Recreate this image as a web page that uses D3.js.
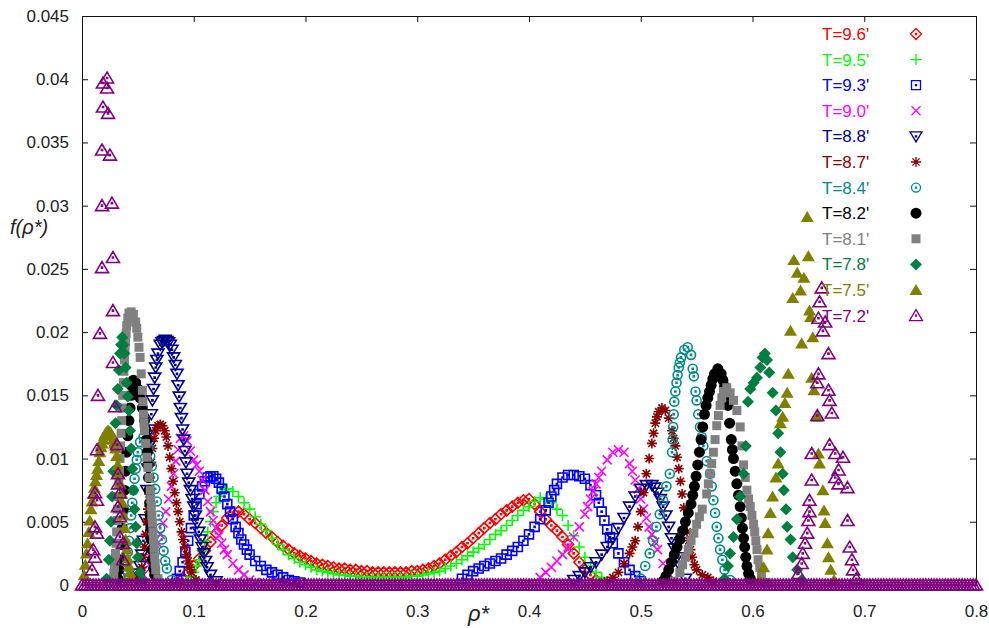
<!DOCTYPE html>
<html>
<head>
<meta charset="utf-8">
<script src="https://cdn.jsdelivr.net/npm/d3@7"></script>
<style>
  body { margin: 0; background: #fff; }
  text { font-family: "Liberation Sans", Arial, sans-serif; }
</style>
</head>
<body>
<script>
var svgWidth = 989;
var svgHeight = 628;

// legend labels, colours and point types (same order as gnuplot draws them)
var temps = ["T=9.6'", "T=9.5'", "T=9.3'", "T=9.0'", "T=8.8'", "T=8.7'",
             "T=8.4'", "T=8.2'", "T=8.1'", "T=7.8'", "T=7.5'", "T=7.2'"];
var colors = ["#ff0000", "#00ff00", "#0000ff", "#ff00ff", "#00008b", "#8b0000",
              "#008b8b", "#000000", "#808080", "#007f40", "#808000", "#800080"];
var shapes = ["diamond", "plus", "square", "times", "triDown", "asterisk",
              "circle", "dot", "box", "diamondF", "triF", "tri"];

var xTicks = [0, 0.1, 0.2, 0.3, 0.4, 0.5, 0.6, 0.7, 0.8];
var yTicks = [0, 0.005, 0.01, 0.015, 0.02, 0.025, 0.03, 0.035, 0.04, 0.045];

// [rho*, f(rho*)]
var t96 = [[0.085,0.0002],[0.09,0.0005],[0.095,0.001],[0.1,0.0015],[0.105,0.0021],[0.11,0.0027],[0.115,0.0034],[0.12,0.0041],[0.125,0.0047],[0.13,0.0053],[0.135,0.0057],[0.14,0.0058],[0.145,0.0056],[0.15,0.0052],[0.155,0.0049],[0.16,0.0045],[0.165,0.0041],[0.17,0.0038],[0.175,0.0034],[0.18,0.0031],[0.185,0.0028],[0.19,0.0025],[0.195,0.0023],[0.2,0.0021],[0.205,0.0019],[0.21,0.0017],[0.215,0.0016],[0.22,0.0015],[0.225,0.0014],[0.23,0.0013],[0.235,0.0013],[0.24,0.0012],[0.245,0.0012],[0.25,0.0011],[0.255,0.0011],[0.26,0.001],[0.265,0.001],[0.27,0.001],[0.275,0.001],[0.28,0.001],[0.285,0.001],[0.29,0.001],[0.295,0.0011],[0.3,0.0011],[0.305,0.0012],[0.31,0.0013],[0.315,0.0015],[0.32,0.0017],[0.325,0.002],[0.33,0.0023],[0.335,0.0026],[0.34,0.003],[0.345,0.0033],[0.35,0.0037],[0.355,0.0041],[0.36,0.0045],[0.365,0.0049],[0.37,0.0052],[0.375,0.0056],[0.38,0.0059],[0.385,0.0062],[0.39,0.0065],[0.395,0.0067],[0.4,0.0068],[0.405,0.0064],[0.41,0.0058],[0.415,0.0052],[0.42,0.0047],[0.425,0.0043],[0.43,0.0038],[0.435,0.0032],[0.44,0.0025],[0.445,0.0018],[0.45,0.0012],[0.455,0.0008],[0.46,0.0004]];

var t95 = [[0.095,0.0003],[0.0975,0.0006],[0.1,0.001],[0.1025,0.0015],[0.105,0.002],[0.1075,0.0027],[0.11,0.0035],[0.1125,0.0042],[0.115,0.005],[0.1175,0.0058],[0.12,0.0065],[0.1225,0.007],[0.125,0.0074],[0.1275,0.0076],[0.13,0.0076],[0.135,0.0074],[0.14,0.007],[0.145,0.0065],[0.15,0.006],[0.155,0.0054],[0.16,0.0048],[0.165,0.0043],[0.17,0.0037],[0.175,0.0032],[0.18,0.0028],[0.185,0.0024],[0.19,0.0021],[0.195,0.0018],[0.2,0.0016],[0.205,0.0014],[0.21,0.0012],[0.215,0.0011],[0.22,0.001],[0.225,0.0009],[0.23,0.0008],[0.235,0.0008],[0.24,0.0007],[0.245,0.0007],[0.25,0.0006],[0.255,0.0006],[0.26,0.0006],[0.265,0.0006],[0.27,0.0006],[0.275,0.0006],[0.28,0.0006],[0.285,0.0006],[0.29,0.0006],[0.295,0.0007],[0.3,0.0007],[0.305,0.0008],[0.31,0.0009],[0.315,0.001],[0.32,0.0011],[0.325,0.0013],[0.33,0.0015],[0.335,0.0017],[0.34,0.002],[0.345,0.0023],[0.35,0.0026],[0.355,0.0029],[0.36,0.0032],[0.365,0.0036],[0.37,0.004],[0.375,0.0043],[0.38,0.0047],[0.385,0.0051],[0.39,0.0055],[0.395,0.0059],[0.4,0.0062],[0.405,0.0066],[0.41,0.0069],[0.415,0.0068],[0.42,0.0065],[0.425,0.006],[0.43,0.0055],[0.435,0.0047],[0.44,0.0039],[0.445,0.003],[0.45,0.0022],[0.455,0.0015],[0.46,0.001],[0.465,0.0006],[0.47,0.0002]];

var t93 = [[0.085,0.0005],[0.0875,0.0011],[0.09,0.0018],[0.0925,0.0026],[0.095,0.0035],[0.0975,0.0045],[0.1,0.0055],[0.1025,0.0064],[0.105,0.0072],[0.1075,0.0078],[0.11,0.0082],[0.1125,0.0085],[0.115,0.0086],[0.1175,0.0086],[0.12,0.0084],[0.1225,0.0081],[0.125,0.0076],[0.1275,0.007],[0.13,0.0064],[0.1325,0.0058],[0.135,0.0052],[0.1375,0.0046],[0.14,0.0041],[0.1425,0.0036],[0.145,0.0032],[0.1475,0.0028],[0.15,0.0024],[0.155,0.0019],[0.16,0.0015],[0.165,0.0012],[0.17,0.001],[0.175,0.0008],[0.18,0.0006],[0.185,0.0004],[0.19,0.0003],[0.195,0.0002],
  [0.34,0.0005],[0.345,0.0008],[0.35,0.0011],[0.355,0.0013],[0.36,0.0015],[0.365,0.0017],[0.37,0.0019],[0.375,0.0021],[0.38,0.0024],[0.385,0.0027],[0.39,0.003],[0.395,0.0035],[0.4,0.004],[0.405,0.0046],[0.41,0.0052],[0.415,0.0059],[0.4175,0.0065],[0.42,0.007],[0.4225,0.0075],[0.425,0.008],[0.43,0.0085],[0.435,0.0087],[0.44,0.0087],[0.445,0.0086],[0.45,0.0084],[0.455,0.0079],[0.46,0.0071],[0.4625,0.0065],[0.465,0.0058],[0.4675,0.0051],[0.47,0.0044],[0.4725,0.0038],[0.475,0.0033],[0.48,0.0025],[0.485,0.0018],[0.49,0.0012],[0.495,0.0007],[0.5,0.0003]];

var t90 = [[0.05,0.0002],[0.055,0.0008],[0.06,0.0016],[0.0625,0.0021],[0.065,0.0027],[0.0675,0.0033],[0.07,0.004],[0.0725,0.0049],[0.075,0.0058],[0.0775,0.0068],[0.08,0.0078],[0.082,0.0088],[0.084,0.0098],[0.086,0.0107],[0.088,0.0116],[0.091,0.0118],[0.094,0.0114],[0.097,0.0106],[0.1,0.0099],[0.1025,0.0095],[0.105,0.009],[0.1075,0.0083],[0.11,0.0075],[0.1125,0.0066],[0.115,0.0058],[0.1175,0.0051],[0.12,0.0045],[0.1225,0.0039],[0.125,0.0033],[0.1275,0.0028],[0.13,0.0024],[0.135,0.0017],[0.14,0.0012],[0.145,0.0008],[0.15,0.0004],[0.155,0.0002],
  [0.41,0.0006],[0.415,0.001],[0.42,0.0014],[0.425,0.0019],[0.43,0.0024],[0.435,0.003],[0.44,0.0038],[0.445,0.0046],[0.45,0.0056],[0.4525,0.0062],[0.455,0.0068],[0.4575,0.0074],[0.46,0.008],[0.4625,0.0085],[0.465,0.009],[0.47,0.0099],[0.475,0.0105],[0.48,0.0107],[0.485,0.0105],[0.49,0.0096],[0.4925,0.009],[0.495,0.0083],[0.4975,0.0076],[0.5,0.0068],[0.5025,0.006],[0.505,0.0053],[0.5075,0.0046],[0.51,0.004],[0.5125,0.0034],[0.515,0.0028],[0.52,0.0017],[0.525,0.0009],[0.53,0.0004]];

var t88 = [[0.048,0.0005],[0.05,0.0009],[0.052,0.0015],[0.0535,0.0024],[0.055,0.0035],[0.0565,0.0052],[0.058,0.0075],[0.059,0.0092],[0.06,0.011],[0.061,0.0123],[0.062,0.0135],[0.063,0.0146],[0.064,0.0155],[0.065,0.0164],[0.066,0.0172],[0.067,0.0178],[0.068,0.0183],[0.07,0.019],[0.0715,0.0192],[0.073,0.0193],[0.0745,0.0194],[0.076,0.0193],[0.0775,0.0192],[0.079,0.019],[0.0805,0.0186],[0.082,0.018],[0.0835,0.0174],[0.085,0.0167],[0.086,0.0158],[0.087,0.0149],[0.088,0.014],[0.089,0.0132],[0.09,0.0123],[0.091,0.0115],[0.092,0.0106],[0.093,0.0097],[0.094,0.0088],[0.0955,0.0081],[0.097,0.0075],[0.0985,0.0068],[0.1,0.0062],[0.1015,0.0055],[0.103,0.0049],[0.1045,0.0042],[0.106,0.0036],[0.1075,0.003],[0.109,0.0025],[0.1105,0.0019],[0.112,0.0014],[0.115,0.0008],[0.12,0.0003],
  [0.44,0.0004],[0.445,0.0007],[0.45,0.001],[0.455,0.0014],[0.46,0.0018],[0.465,0.0024],[0.47,0.003],[0.475,0.0037],[0.48,0.0045],[0.485,0.0053],[0.49,0.0062],[0.495,0.007],[0.5,0.0076],[0.505,0.0079],[0.51,0.0079],[0.5125,0.0077],[0.515,0.0073],[0.5175,0.0068],[0.52,0.0062],[0.5225,0.0055],[0.525,0.0046],[0.5275,0.0037],[0.53,0.0029],[0.5325,0.0022],[0.535,0.0015],[0.54,0.0005]];

var t87 = [[0.05,0.0004],[0.052,0.0008],[0.0535,0.0014],[0.055,0.0022],[0.056,0.003],[0.057,0.004],[0.058,0.005],[0.059,0.006],[0.06,0.0072],[0.061,0.0085],[0.062,0.0097],[0.063,0.0108],[0.0645,0.0116],[0.066,0.0122],[0.068,0.0126],[0.07,0.0127],[0.072,0.0126],[0.074,0.0122],[0.0755,0.0117],[0.077,0.011],[0.0785,0.0101],[0.08,0.0092],[0.0815,0.0082],[0.083,0.0073],[0.0845,0.0065],[0.086,0.0058],[0.0875,0.005],[0.089,0.0042],[0.0905,0.0036],[0.092,0.003],[0.0935,0.0024],[0.095,0.0019],[0.0965,0.0014],[0.098,0.001],[0.102,0.0004],
  [0.47,0.0003],[0.475,0.0006],[0.48,0.001],[0.485,0.0017],[0.49,0.0025],[0.4925,0.003],[0.495,0.0035],[0.4975,0.0046],[0.5,0.0058],[0.5025,0.0073],[0.505,0.0088],[0.5075,0.01],[0.51,0.0112],[0.5115,0.012],[0.513,0.0128],[0.5145,0.0133],[0.516,0.0137],[0.519,0.014],[0.522,0.0138],[0.525,0.0132],[0.528,0.0122],[0.5295,0.0116],[0.531,0.011],[0.5325,0.0101],[0.534,0.0092],[0.5355,0.0082],[0.537,0.0072],[0.5385,0.0061],[0.54,0.005],[0.5415,0.0042],[0.543,0.0035],[0.5445,0.0028],[0.546,0.0022],[0.548,0.0016],[0.55,0.0012],[0.555,0.0008],[0.56,0.0006],[0.565,0.0003]];

var t84 = [[0.036,0.0003],[0.038,0.0008],[0.039,0.0012],[0.04,0.0018],[0.041,0.0026],[0.042,0.0035],[0.043,0.0045],[0.044,0.0055],[0.045,0.0065],[0.046,0.0075],[0.047,0.0084],[0.048,0.0092],[0.049,0.0099],[0.05,0.0105],[0.052,0.0113],[0.055,0.0117],[0.058,0.0113],[0.0595,0.0108],[0.061,0.0102],[0.0625,0.0094],[0.064,0.0085],[0.0655,0.0076],[0.067,0.0066],[0.0685,0.0055],[0.07,0.0045],[0.0715,0.0036],[0.073,0.0027],[0.0745,0.0019],[0.076,0.0013],[0.08,0.0004],
  [0.5,0.0005],[0.504,0.0015],[0.508,0.0025],[0.511,0.0035],[0.514,0.0046],[0.517,0.0056],[0.52,0.0067],[0.523,0.0078],[0.526,0.0088],[0.528,0.0105],[0.5285,0.0115],[0.529,0.0125],[0.5295,0.0135],[0.53,0.0145],[0.531,0.0153],[0.532,0.016],[0.533,0.0166],[0.534,0.0172],[0.535,0.0176],[0.536,0.018],[0.539,0.0186],[0.542,0.0188],[0.545,0.0182],[0.5465,0.0171],[0.5475,0.0165],[0.549,0.0153],[0.55,0.0146],[0.5515,0.0135],[0.553,0.0125],[0.5545,0.0117],[0.556,0.011],[0.559,0.0098],[0.562,0.0088],[0.5635,0.0078],[0.565,0.0067],[0.5665,0.0057],[0.568,0.0046],[0.5695,0.0037],[0.571,0.0028],[0.573,0.002],[0.575,0.0012],[0.58,0.0004]];

var t82 = [[0.032,0.0005],[0.033,0.0012],[0.034,0.002],[0.035,0.0032],[0.036,0.0045],[0.037,0.006],[0.038,0.0075],[0.039,0.009],[0.04,0.0105],[0.041,0.0118],[0.042,0.013],[0.043,0.014],[0.044,0.015],[0.045,0.0157],[0.046,0.0162],[0.048,0.016],[0.05,0.0155],[0.052,0.0148],[0.054,0.014],[0.056,0.013],[0.057,0.0123],[0.058,0.0115],[0.0585,0.0105],[0.059,0.0095],[0.0595,0.0085],[0.06,0.0075],[0.0605,0.0065],[0.061,0.0055],[0.0615,0.0045],[0.062,0.0036],[0.0625,0.0028],[0.063,0.002],[0.064,0.0013],[0.065,0.0008],
  [0.52,0.0003],[0.5225,0.0007],[0.525,0.0012],[0.5275,0.0018],[0.53,0.0024],[0.5325,0.003],[0.535,0.0036],[0.5375,0.0043],[0.54,0.005],[0.5425,0.0057],[0.545,0.0064],[0.5465,0.0071],[0.548,0.0078],[0.5495,0.0086],[0.551,0.0095],[0.5525,0.0105],[0.554,0.0115],[0.5555,0.0125],[0.557,0.0135],[0.5585,0.0142],[0.56,0.0148],[0.5615,0.0153],[0.563,0.0158],[0.5645,0.0163],[0.566,0.0167],[0.569,0.0171],[0.572,0.0167],[0.5735,0.0162],[0.575,0.0157],[0.5765,0.015],[0.578,0.0142],[0.5795,0.0128],[0.581,0.0115],[0.582,0.0107],[0.583,0.01],[0.5845,0.009],[0.586,0.008],[0.5875,0.0071],[0.589,0.0062],[0.59,0.0053],[0.591,0.0045],[0.592,0.0037],[0.593,0.003],[0.594,0.0022],[0.595,0.0015],[0.5965,0.0009],[0.598,0.0005]];

var t81 = [[0.028,0.0005],[0.0285,0.0009],[0.029,0.0014],[0.0295,0.0019],[0.03,0.0025],[0.0305,0.0033],[0.031,0.0042],[0.0315,0.0051],[0.032,0.006],[0.0325,0.007],[0.033,0.008],[0.0335,0.009],[0.034,0.01],[0.0345,0.011],[0.035,0.012],[0.0355,0.013],[0.036,0.014],[0.0365,0.015],[0.037,0.016],[0.0375,0.0169],[0.038,0.0178],[0.0385,0.0185],[0.039,0.0192],[0.0395,0.0199],[0.04,0.0205],[0.041,0.0211],[0.042,0.0215],[0.044,0.0216],[0.046,0.0214],[0.048,0.0208],[0.049,0.0203],[0.05,0.0196],[0.051,0.0188],[0.052,0.018],[0.053,0.0167],[0.054,0.0154],[0.0545,0.0145],[0.055,0.0135],[0.0555,0.0128],[0.056,0.0122],[0.057,0.0112],[0.058,0.0101],[0.059,0.0093],[0.06,0.0085],[0.061,0.0075],[0.0615,0.0068],[0.062,0.0062],[0.0625,0.0055],[0.063,0.0049],[0.0635,0.0042],[0.064,0.0036],[0.0645,0.0029],[0.065,0.0022],[0.0655,0.0017],[0.066,0.0012],[0.068,0.0005],
  [0.53,0.0003],[0.535,0.001],[0.5375,0.0016],[0.54,0.0022],[0.5425,0.0028],[0.545,0.0035],[0.5475,0.0041],[0.55,0.0048],[0.5525,0.0054],[0.555,0.006],[0.559,0.0072],[0.5605,0.008],[0.562,0.0088],[0.5635,0.0096],[0.565,0.0105],[0.5665,0.0115],[0.568,0.0126],[0.5695,0.0134],[0.571,0.0142],[0.5725,0.0148],[0.574,0.0153],[0.577,0.0156],[0.58,0.0152],[0.583,0.0146],[0.586,0.0138],[0.589,0.0125],[0.5905,0.011],[0.592,0.0095],[0.5935,0.0085],[0.595,0.0075],[0.5965,0.0068],[0.598,0.0062],[0.5995,0.0055],[0.601,0.0048],[0.602,0.0042],[0.603,0.0035],[0.604,0.0028],[0.605,0.002],[0.6065,0.0014],[0.608,0.0008],[0.612,0.0002]];

var t78 = [[0.022,0.0005],[0.024,0.002],[0.025,0.0035],[0.026,0.005],[0.027,0.007],[0.028,0.009],[0.029,0.011],[0.03,0.0128],[0.031,0.0142],[0.032,0.0155],[0.033,0.017],[0.034,0.0183],[0.035,0.019],[0.036,0.0196],[0.037,0.019],[0.038,0.0183],[0.039,0.0172],[0.04,0.016],[0.041,0.0149],[0.042,0.0138],[0.043,0.0122],[0.044,0.0108],[0.045,0.0092],[0.046,0.0075],[0.047,0.006],[0.048,0.0046],[0.049,0.0033],[0.05,0.0022],[0.052,0.001],[0.054,0.0004],
  [0.575,0.0005],[0.578,0.0015],[0.58,0.0025],[0.583,0.0038],[0.586,0.0052],[0.589,0.007],[0.592,0.0088],[0.594,0.011],[0.596,0.0145],[0.598,0.0155],[0.601,0.016],[0.604,0.0164],[0.607,0.0172],[0.609,0.018],[0.611,0.0183],[0.613,0.0178],[0.615,0.0168],[0.618,0.0152],[0.621,0.0138],[0.623,0.012],[0.625,0.0105],[0.627,0.0088],[0.628,0.0075],[0.63,0.006],[0.631,0.0046],[0.634,0.0036],[0.636,0.0022],[0.64,0.0012],[0.644,0.0004]];

var t75 = [[0.002,0.0008],[0.003,0.0016],[0.004,0.0025],[0.005,0.0033],[0.006,0.0042],[0.007,0.0051],[0.008,0.006],[0.009,0.0066],[0.01,0.0072],[0.011,0.0077],[0.012,0.0082],[0.013,0.0087],[0.014,0.0092],[0.015,0.0098],[0.016,0.0105],[0.017,0.0109],[0.018,0.0112],[0.019,0.0115],[0.02,0.0118],[0.021,0.012],[0.022,0.0121],[0.023,0.0122],[0.024,0.0122],[0.025,0.0121],[0.026,0.012],[0.027,0.0118],[0.028,0.0115],[0.029,0.0112],[0.03,0.0108],[0.031,0.0102],[0.032,0.0095],[0.033,0.0088],[0.034,0.008],[0.035,0.0072],[0.036,0.0065],[0.037,0.0055],[0.038,0.0045],[0.039,0.0036],[0.04,0.0028],[0.041,0.0021],[0.042,0.0015],[0.043,0.001],[0.044,0.0006],
  [0.606,0.0004],[0.61,0.0014],[0.613,0.0028],[0.614,0.0041],[0.616,0.0057],[0.618,0.007],[0.621,0.0085],[0.623,0.0096],[0.625,0.0128],[0.627,0.0133],[0.629,0.0144],[0.631,0.0152],[0.632,0.0167],[0.634,0.0201],[0.636,0.0227],[0.637,0.0257],[0.64,0.0247],[0.643,0.0233],[0.644,0.0191],[0.646,0.0243],[0.649,0.0291],[0.65,0.026],[0.651,0.0217],[0.652,0.0212],[0.653,0.0164],[0.654,0.0196],[0.655,0.0154],[0.658,0.0133],[0.659,0.0104],[0.66,0.0096],[0.663,0.0075],[0.664,0.0059],[0.665,0.0049],[0.667,0.0033],[0.668,0.0022],[0.67,0.0012],[0.673,0.0004]];

var t72 = [[0.009,0.0012],[0.01,0.0028],[0.0116,0.0046],[0.0116,0.0022],[0.0116,0.0073],[0.0134,0.0041],[0.0134,0.0067],[0.0134,0.0107],[0.0143,0.015],[0.0161,0.0199],[0.0179,0.0251],[0.0179,0.03],[0.0179,0.0344],[0.0188,0.0378],[0.0188,0.0397],[0.0224,0.0401],[0.0224,0.0393],[0.0233,0.0373],[0.025,0.034],[0.0268,0.0302],[0.0277,0.0259],[0.0277,0.0217],[0.0277,0.0176],[0.0295,0.0141],[0.0313,0.0111],[0.0322,0.0088],[0.0322,0.008],[0.0322,0.0062],[0.034,0.0073],[0.034,0.0054],[0.034,0.0038],[0.0367,0.0033],[0.0367,0.002],
  [0.641,0.0009],[0.644,0.0017],[0.645,0.0025],[0.647,0.0033],[0.649,0.0041],[0.65,0.0051],[0.651,0.0058],[0.651,0.0067],[0.653,0.0083],[0.653,0.0104],[0.658,0.0134],[0.658,0.016],[0.659,0.0167],[0.659,0.0211],[0.66,0.0224],[0.662,0.0235],[0.663,0.0201],[0.665,0.0208],[0.668,0.0183],[0.668,0.0154],[0.669,0.0146],[0.671,0.0136],[0.669,0.0111],[0.674,0.0104],[0.677,0.0091],[0.674,0.0085],[0.677,0.008],[0.681,0.0101],[0.685,0.0077],[0.685,0.0051],[0.687,0.003],[0.689,0.002],[0.69,0.0012],[0.693,0.0005]];

// rho* values where T=7.2 sits on f = 0 (the purple band along the axis)
var zeroRho = [
  0,0.0025,0.005,0.0075,0.01,0.0125,0.015,0.0175,
  0.02,0.0225,0.025,0.0275,0.03,0.0325,0.035,0.0375,
  0.04,0.0425,0.045,0.0475,0.05,0.0525,0.055,0.0575,
  0.06,0.0625,0.065,0.0675,0.07,0.0725,0.075,0.0775,
  0.08,0.0825,0.085,0.0875,0.09,0.0925,0.095,0.0975,
  0.1,0.1025,0.105,0.1075,0.11,0.1125,0.115,0.1175,
  0.12,0.1225,0.125,0.1275,0.13,0.1325,0.135,0.1375,
  0.14,0.1425,0.145,0.1475,0.15,0.1525,0.155,0.1575,
  0.16,0.1625,0.165,0.1675,0.17,0.1725,0.175,0.1775,
  0.18,0.1825,0.185,0.1875,0.19,0.1925,0.195,0.1975,
  0.2,0.2025,0.205,0.2075,0.21,0.2125,0.215,0.2175,
  0.22,0.2225,0.225,0.2275,0.23,0.2325,0.235,0.2375,
  0.24,0.2425,0.245,0.2475,0.25,0.2525,0.255,0.2575,
  0.26,0.2625,0.265,0.2675,0.27,0.2725,0.275,0.2775,
  0.28,0.2825,0.285,0.2875,0.29,0.2925,0.295,0.2975,
  0.3,0.3025,0.305,0.3075,0.31,0.3125,0.315,0.3175,
  0.32,0.3225,0.325,0.3275,0.33,0.3325,0.335,0.3375,
  0.34,0.3425,0.345,0.3475,0.35,0.3525,0.355,0.3575,
  0.36,0.3625,0.365,0.3675,0.37,0.3725,0.375,0.3775,
  0.38,0.3825,0.385,0.3875,0.39,0.3925,0.395,0.3975,
  0.4,0.4025,0.405,0.4075,0.41,0.4125,0.415,0.4175,
  0.42,0.4225,0.425,0.4275,0.43,0.4325,0.435,0.4375,
  0.44,0.4425,0.445,0.4475,0.45,0.4525,0.455,0.4575,
  0.46,0.4625,0.465,0.4675,0.47,0.4725,0.475,0.4775,
  0.48,0.4825,0.485,0.4875,0.49,0.4925,0.495,0.4975,
  0.5,0.5025,0.505,0.5075,0.51,0.5125,0.515,0.5175,
  0.52,0.5225,0.525,0.5275,0.53,0.5325,0.535,0.5375,
  0.54,0.5425,0.545,0.5475,0.55,0.5525,0.555,0.5575,
  0.56,0.5625,0.565,0.5675,0.57,0.5725,0.575,0.5775,
  0.58,0.5825,0.585,0.5875,0.59,0.5925,0.595,0.5975,
  0.6,0.6025,0.605,0.6075,0.61,0.6125,0.615,0.6175,
  0.62,0.6225,0.625,0.6275,0.63,0.6325,0.635,0.6375,
  0.64,0.6425,0.645,0.6475,0.65,0.6525,0.655,0.6575,
  0.66,0.6625,0.665,0.6675,0.67,0.6725,0.675,0.6775,
  0.68,0.6825,0.685,0.6875,0.69,0.6925,0.695,0.6975,
  0.7,0.7025,0.705,0.7075,0.71,0.7125,0.715,0.7175,
  0.72,0.7225,0.725,0.7275,0.73,0.7325,0.735,0.7375,
  0.74,0.7425,0.745,0.7475,0.75,0.7525,0.755,0.7575,
  0.76,0.7625,0.765,0.7675,0.77,0.7725,0.775,0.7775,
  0.78,0.7825,0.785,0.7875,0.79,0.7925,0.795,0.7975,
  0.8];

var seriesData = [t96, t95, t93, t90, t88, t87, t84, t82, t81, t78, t75, t72];

// point types: path + whether it is filled
var dotMark = "M-0.5,-0.5h1v1h-1Z";
var markers = {
  diamond:  { d: "M0,-5.5L5.5,0L0,5.5L-5.5,0Z" + dotMark, fill: false },
  plus:     { d: "M-5.5,0H5.5M0,-5.5V5.5", fill: false },
  square:   { d: "M-4.5,-4.5H4.5V4.5H-4.5Z" + dotMark, fill: false },
  times:    { d: "M-4.5,-4.5L4.5,4.5M-4.5,4.5L4.5,-4.5", fill: false },
  triDown:  { d: "M-6,-4.5H6L0,5.5Z" + dotMark, fill: false },
  asterisk: { d: "M-5,0H5M0,-5V5M-3.6,-3.6L3.6,3.6M-3.6,3.6L3.6,-3.6", fill: false },
  circle:   { d: d3.symbol(d3.symbolCircle, 64)() + dotMark, fill: false },
  dot:      { d: d3.symbol(d3.symbolCircle, 95)(), fill: true },
  box:      { d: "M-4.5,-4.5H4.5V4.5H-4.5Z", fill: true },
  diamondF: { d: "M0,-6L6,0L0,6L-6,0Z", fill: true },
  triF:     { d: "M0,-6L6.5,5H-6.5Z", fill: true },
  tri:      { d: "M0,-6L6.5,5H-6.5Z" + dotMark, fill: false }
};

var svg = d3.select("body")
  .append("svg")
  .attr("width", svgWidth)
  .attr("height", svgHeight);

svg.append("rect").attr("width", svgWidth).attr("height", svgHeight).attr("fill", "#fff");

var xScale = d3.scaleLinear().domain([0, 0.8]).range([82, 976]);
var yScale = d3.scaleLinear().domain([0, 0.045]).range([585, 16]);

function styleAxis(g) {
  g.selectAll("path, line").attr("stroke", "#111");
  g.selectAll("text").attr("fill", "#222").style("font-size", "17px")
    .style("font-family", "'Liberation Sans', Arial, sans-serif");
}

// frame and ticks (gnuplot style, ticks pointing in)
svg.append("g")
  .attr("transform", "translate(82,0)")
  .call(d3.axisLeft(yScale).tickValues(yTicks).tickFormat(d3.format("~g"))
    .tickSizeInner(-6).tickSizeOuter(0).tickPadding(13))
  .call(styleAxis);

svg.append("g")
  .attr("transform", "translate(976,0)")
  .call(d3.axisRight(yScale).tickValues(yTicks).tickFormat("")
    .tickSizeInner(-6).tickSizeOuter(0))
  .call(styleAxis);

svg.append("g")
  .attr("transform", "translate(0,585)")
  .call(d3.axisBottom(xScale).tickValues(xTicks).tickFormat(d3.format("~g"))
    .tickSizeInner(-6).tickSizeOuter(0).tickPadding(20))
  .call(styleAxis);

svg.append("g")
  .attr("transform", "translate(0,16)")
  .call(d3.axisTop(xScale).tickValues(xTicks).tickFormat("")
    .tickSizeInner(-6).tickSizeOuter(0))
  .call(styleAxis);

// data points, one group per temperature
seriesData.forEach(function(data, i) {
  var pts = data;
  if (i == 11) {
    pts = zeroRho.map(function(r) { return [r, 0]; }).concat(data);
  }
  var m = markers[shapes[i]];
  svg.append("g")
    .selectAll("path")
    .data(pts)
    .enter()
    .append("path")
    .attr("transform", function(d) { return "translate(" + xScale(d[0]) + "," + yScale(d[1]) + ")"; })
    .attr("d", m.d)
    .attr("fill", m.fill ? colors[i] : "none")
    .attr("stroke", m.fill ? "none" : colors[i])
    .attr("stroke-width", 1.6);
});

// legend
var legend = svg.append("g");
temps.forEach(function(t, i) {
  var yc = 34 + i * 25.6;
  var m = markers[shapes[i]];
  legend.append("text")
    .attr("x", 822)
    .attr("y", yc + 6)
    .attr("fill", colors[i])
    .style("font-size", "17px")
    .text(t);
  legend.append("path")
    .attr("transform", "translate(916," + yc + ")")
    .attr("d", m.d)
    .attr("fill", m.fill ? colors[i] : "none")
    .attr("stroke", m.fill ? "none" : colors[i])
    .attr("stroke-width", 1.3);
});

// axis titles (the asterisk glyph already sits high, like a superscript)
svg.append("text")
  .attr("x", 10)
  .attr("y", 234)
  .attr("fill", "#222")
  .style("font-size", "20px")
  .style("font-style", "italic")
  .text("f(\u03c1*)");

svg.append("text")
  .attr("x", 468)
  .attr("y", 621)
  .attr("fill", "#222")
  .style("font-size", "22px")
  .style("font-style", "italic")
  .text("\u03c1*");
</script>
</body>
</html>
